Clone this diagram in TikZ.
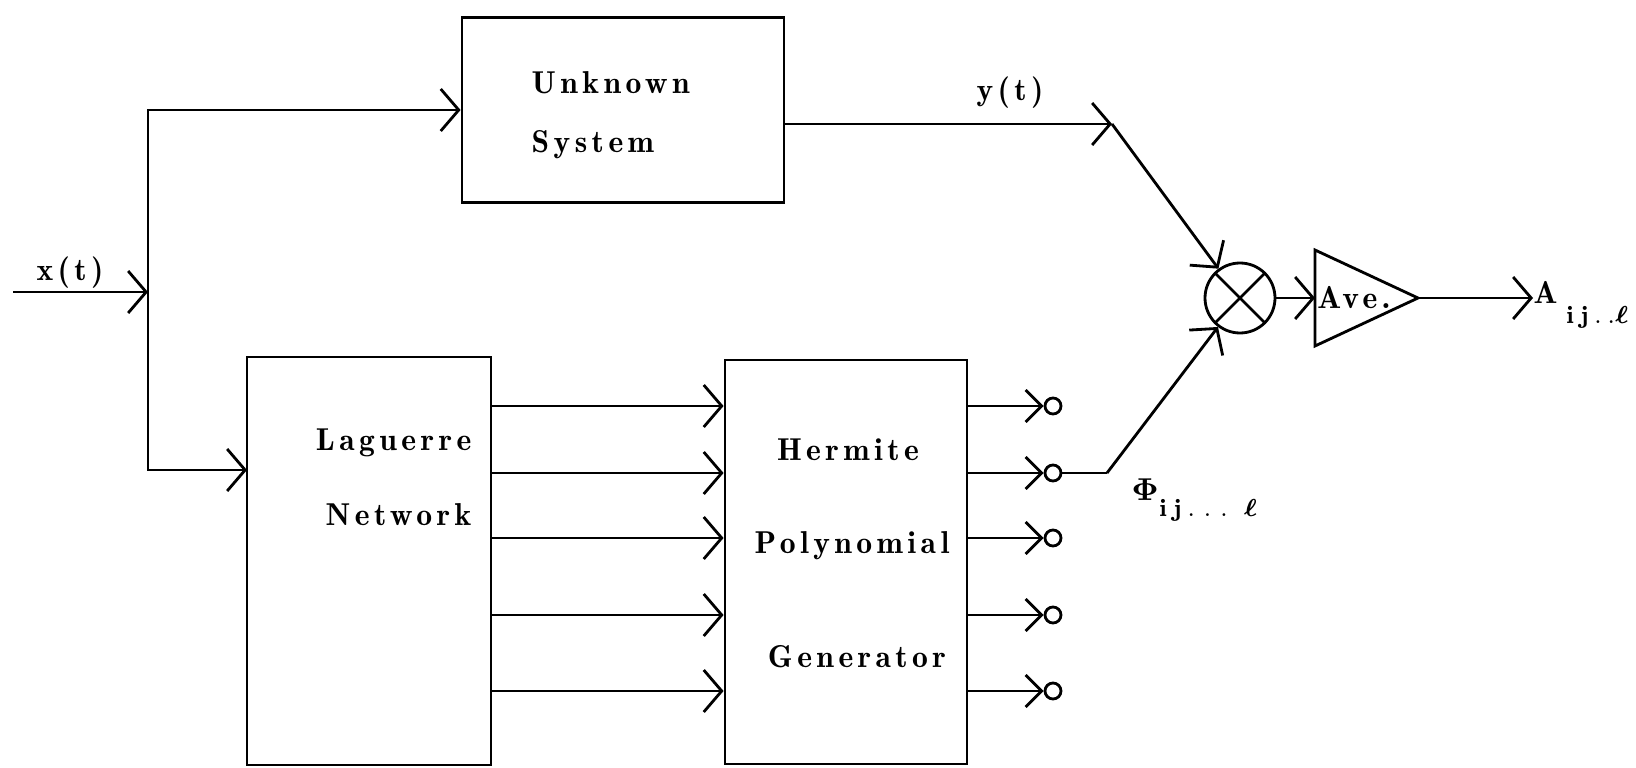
\documentclass[tikz,border=0pt]{standalone}
\usepackage{amsmath,amssymb}
\usepackage[no-math]{fontspec}
\usepackage{tikz}
\usetikzlibrary{arrows.meta,positioning,calc}

\newfontfamily\typed{lmromandemi10-regular.otf}[LetterSpace=14]

\begin{document}
\begin{tikzpicture}[
    >={Straight Barb[length=1.8mm,width=4.2mm]},
    block/.style={
        draw,
        thick,
        inner sep=0pt
    },
    txt/.style={
        inner sep=0pt,
        font=\typed\fontsize{9}{11}\selectfont
    },
    arrow/.style={->, thick},
    taparrow/.style={-{Straight Barb[length=1.6mm,width=3.2mm]}, thick},
    wire/.style={thick},
    tap/.style={
        draw,
        thick,
        circle,
        fill=white,
        inner sep=0pt,
        minimum size=1.6mm
    }
]

\useasboundingbox (0,0) rectangle (16.36,-7.68);

% ============================================================
% Blocks
% ============================================================

\node[
    block,
    minimum width=3.22cm,
    minimum height=1.85cm
] (unknown) at (6.23,-1.10) {};

\node[
    block,
    minimum width=2.44cm,
    minimum height=4.08cm
] (laguerre) at (3.69,-5.61) {};

\node[
    block,
    minimum width=2.42cm,
    minimum height=4.04cm
] (hermite) at (8.46,-5.62) {};

% Multiplier and averager
\node[
    draw,
    thick,
    circle,
    minimum size=0.70cm
] (mult) at (12.40,-2.98) {};

\draw[wire] (mult.45) -- (mult.225);
\draw[wire] (mult.135) -- (mult.-45);

\coordinate (avein) at (13.15,-2.98);
\coordinate (aveout) at (14.18,-2.98);

\draw[wire] (avein) ++(0,0.48) -- (aveout) -- ++(-1.03,-0.48) -- cycle;

\node[txt] (ave) at (13.54,-2.98) {Ave.};

% ============================================================
% Block texts
% ============================================================

\node[
    txt,
    font=\typed\fontsize{9}{16.7}\selectfont,
    align=left,
    anchor=base west
] (unknowntxt) at (5.31,-1.52) {Unknown\\System};

\node[
    txt,
    font=\typed\fontsize{9}{21.3}\selectfont,
    align=right,
    anchor=base east
] (laguerretxt) at (4.72,-5.25) {Laguerre\\Network};

\node[txt, anchor=base] (hermtxt) at (8.48,-4.60) {Hermite};
\node[txt, anchor=base] (polytxt) at (8.52,-5.53) {Polynomial};
\node[txt, anchor=base] (gentxt) at (8.57,-6.67) {Generator};

% ============================================================
% Signal labels
% ============================================================

\node[txt, anchor=base] (xlabel) at (0.70,-2.80) {x(t)};
\node[txt, anchor=base] (ylabel) at (10.10,-1.00) {y(t)};

\node[txt, anchor=base west] (philabel) at (11.31,-5.00)
    {$\mathbf{\Phi}$\raisebox{-1.6mm}{\fontsize{7.5}{9}\selectfont
     $\mathbf{i\,j}\,.\;.\;.\;\;\boldsymbol{\ell}$}};

\node[txt, anchor=base west] (alabel) at (15.33,-3.03)
    {A\raisebox{-2.0mm}{\fontsize{7.5}{9}\selectfont
     $\;\mathbf{i\,j}\,.\,.\boldsymbol{\ell}$}};

% ============================================================
% Input branching
% ============================================================

\coordinate (xin) at (0.13,-2.92);
\coordinate (split) at (1.48,-2.92);
\coordinate (lagin) at (2.47,-4.70);

\draw[arrow] (xin) -- (split);
\draw[arrow] (split) |- (unknown.west);
\draw[arrow] (split) |- (lagin);

% ============================================================
% Laguerre -> Hermite -> taps
% ============================================================

\foreach \i/\y in {1/4.06, 2/4.73, 3/5.38, 4/6.15, 5/6.91} {
    \draw[arrow] (laguerre.east |- 0,-\y) -- (hermite.west |- 0,-\y);
    \node[tap] (tap\i) at (10.53,-\y) {};
    \draw[taparrow] (hermite.east |- 0,-\y) -- (tap\i.west);
}

% ============================================================
% Correlation path
% ============================================================

\coordinate (ybend) at (11.12,-1.24);
\coordinate (phibend) at (11.07,-4.73);

\draw[arrow] (unknown.east |- ybend) -- (ybend);
\draw[arrow] (ybend) -- (mult);

\draw[wire] (tap2.east) -- (phibend);
\draw[arrow] (phibend) -- (mult);

\draw[arrow] (mult) -- (avein);
\draw[arrow] (aveout) -- (alabel.west |- aveout);

\end{tikzpicture}
\end{document}
